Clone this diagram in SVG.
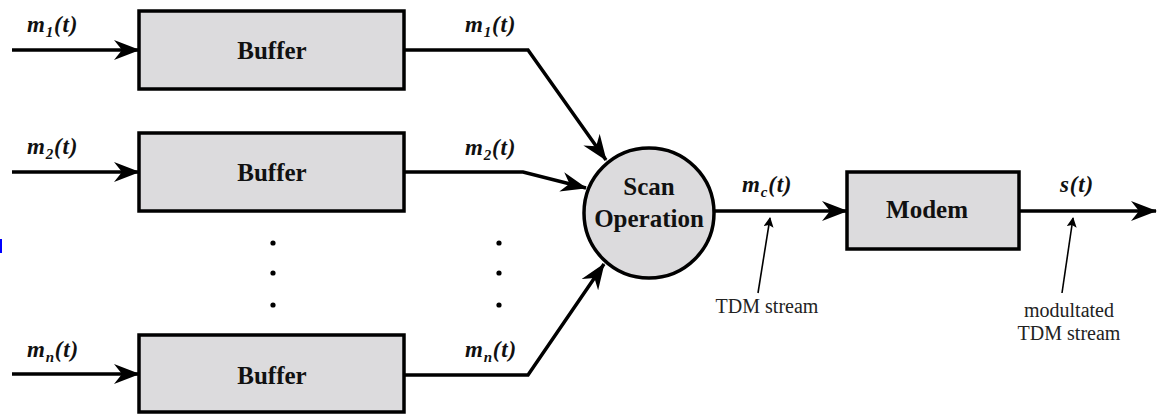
<svg xmlns="http://www.w3.org/2000/svg" width="1157" height="414" viewBox="0 0 1157 414">
<style>
.box{fill:#dcdbdd;stroke:#000;stroke-width:3.5}
.conn{fill:none;stroke:#000;stroke-width:3.5;stroke-linejoin:miter}
.ann{fill:none;stroke:#000;stroke-width:1.6}
.bt{font-family:"Liberation Serif","Times New Roman",Times,serif;font-weight:bold;font-size:25px;fill:#111;text-anchor:middle}
.lab{font-family:"Liberation Serif","Times New Roman",Times,serif;font-weight:bold;font-style:italic;font-size:23px;fill:#111;letter-spacing:0.8px}
.sub{font-size:15px}
.st{font-family:"Liberation Serif","Times New Roman",Times,serif;font-size:20px;fill:#222;text-anchor:middle}
.dot{fill:#000}
</style>
<defs>
<marker id="ah" viewBox="0 0 26 20" refX="25" refY="10" markerWidth="26" markerHeight="20" orient="auto" markerUnits="userSpaceOnUse">
<path d="M0,0 L26,10 L0,20 L8,10 z" fill="#000"/>
</marker>
<marker id="sa" viewBox="0 0 10 10" refX="9" refY="5" markerWidth="11" markerHeight="10" orient="auto" markerUnits="userSpaceOnUse">
<path d="M0,0 L10,5 L0,10 L2,5 z" fill="#000"/>
</marker>
</defs>
<rect x="0" y="239" width="2" height="14" fill="#0000ff"/>
<g id="connectors">
<line class="conn" x1="12" y1="50" x2="139" y2="50" marker-end="url(#ah)"/>
<line class="conn" x1="12" y1="172" x2="139" y2="172" marker-end="url(#ah)"/>
<line class="conn" x1="12" y1="374" x2="139" y2="374" marker-end="url(#ah)"/>
<polyline class="conn" points="404,50 528,50 606,160" marker-end="url(#ah)"/>
<polyline class="conn" points="404,172 523,172 586,188" marker-end="url(#ah)"/>
<polyline class="conn" points="404,375 528,375 604,264" marker-end="url(#ah)"/>
<line class="conn" x1="714" y1="211" x2="847" y2="211" marker-end="url(#ah)"/>
<line class="conn" x1="1019" y1="211" x2="1156" y2="211" marker-end="url(#ah)"/>
<line class="ann" x1="758" y1="293" x2="770" y2="218" marker-end="url(#sa)"/>
<line class="ann" x1="1062" y1="293" x2="1073" y2="218" marker-end="url(#sa)"/>
</g>
<g id="buffer1">
<rect class="box" x="139" y="11" width="265" height="78"/>
<text class="bt" x="272" y="59">Buffer</text>
</g>
<g id="buffer2">
<rect class="box" x="139" y="133" width="265" height="78"/>
<text class="bt" x="272" y="181">Buffer</text>
</g>
<g id="buffern">
<rect class="box" x="139" y="335" width="265" height="77"/>
<text class="bt" x="272" y="384">Buffer</text>
</g>
<g id="scan">
<circle class="box" cx="649" cy="213" r="65"/>
<text class="bt" x="649" y="195">Scan</text>
<text class="bt" x="649" y="227">Operation</text>
</g>
<g id="modem">
<rect class="box" x="847" y="172" width="172" height="77"/>
<text class="bt" x="927" y="218">Modem</text>
</g>
<g id="dots">
<circle class="dot" cx="273" cy="243" r="2.6"/>
<circle class="dot" cx="273" cy="273" r="2.6"/>
<circle class="dot" cx="273" cy="305" r="2.6"/>
<circle class="dot" cx="499" cy="243" r="2.6"/>
<circle class="dot" cx="499" cy="273" r="2.6"/>
<circle class="dot" cx="499" cy="305" r="2.6"/>
</g>
<g id="labels">
<text class="lab" x="27" y="32">m<tspan class="sub" dy="5">1</tspan><tspan dy="-5">(t)</tspan></text>
<text class="lab" x="27" y="154">m<tspan class="sub" dy="5">2</tspan><tspan dy="-5">(t)</tspan></text>
<text class="lab" x="27" y="357">m<tspan class="sub" dy="5">n</tspan><tspan dy="-5">(t)</tspan></text>
<text class="lab" x="465" y="32">m<tspan class="sub" dy="5">1</tspan><tspan dy="-5">(t)</tspan></text>
<text class="lab" x="465" y="155">m<tspan class="sub" dy="5">2</tspan><tspan dy="-5">(t)</tspan></text>
<text class="lab" x="465" y="357">m<tspan class="sub" dy="5">n</tspan><tspan dy="-5">(t)</tspan></text>
<text class="lab" x="742" y="192">m<tspan class="sub" dy="5">c</tspan><tspan dy="-5">(t)</tspan></text>
<text class="lab" x="1060" y="192">s(t)</text>
<text class="st" x="767" y="313">TDM stream</text>
<text class="st" x="1069" y="317">modultated</text>
<text class="st" x="1069" y="340">TDM stream</text>
</g>
</svg>
